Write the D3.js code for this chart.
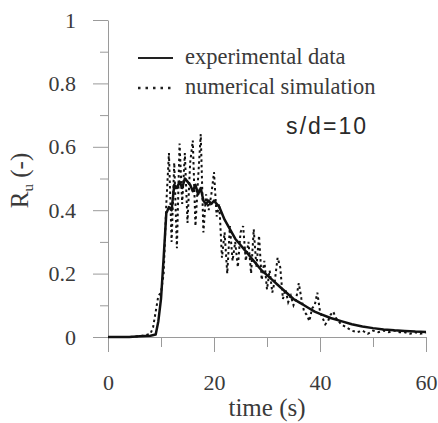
<!DOCTYPE html>
<html>
<head>
<meta charset="utf-8">
<script src="https://cdn.jsdelivr.net/npm/d3@7"></script>
<style>
  body { margin: 0; background: #fff; }
  svg { display: block; }
</style>
</head>
<body>
<div id="chart"></div>
<script>
// experimental data (solid)
const expTime = [0, 2, 4, 6, 8, 9, 9.5, 10, 10.5, 11, 11.5, 12, 12.5, 13, 13.5, 14, 14.5, 15, 15.5, 16, 16.5, 17, 17.5, 18, 18.5, 19, 19.5, 20, 20.5, 21,
    22, 23, 24, 25, 26, 27, 28, 29, 30, 31, 32, 33, 34, 35, 36, 37, 38, 39, 40, 42, 44, 46, 48, 50, 52, 54, 56, 58, 60]
const expRu = [0, 0, 0, 0.002, 0.004, 0.008, 0.05, 0.12, 0.25, 0.39, 0.41, 0.40, 0.48, 0.47, 0.49, 0.47, 0.50, 0.49, 0.48, 0.46, 0.48, 0.45, 0.47, 0.43, 0.42, 0.43, 0.42, 0.43, 0.42, 0.41,
    0.37, 0.34, 0.31, 0.29, 0.27, 0.25, 0.23, 0.21, 0.195, 0.18, 0.165, 0.15, 0.135, 0.12, 0.11, 0.10, 0.09, 0.08, 0.073, 0.06, 0.05, 0.04, 0.033, 0.028, 0.024, 0.021, 0.019, 0.017, 0.016]

// numerical simulation (dotted)
const simTime = [0, 2, 4, 6, 7, 8, 8.5, 9, 9.5, 10, 10.5, 11, 11.5, 12, 12.5, 13, 13.5, 14, 14.5, 15, 15.5, 16, 16.5, 17, 17.5, 18, 18.5, 19, 19.5, 20, 20.5, 21, 21.5, 22, 22.5,
    23, 23.5, 24, 24.5, 25, 25.5, 26, 26.5, 27, 27.5, 28, 28.5, 29, 29.5, 30, 30.5, 31, 31.5, 32, 32.5, 33, 33.5, 34, 34.5, 35, 35.5, 36, 36.5, 37, 37.5, 38, 38.5, 39, 39.5,
    40, 40.5, 41, 41.5, 42, 42.5, 43, 44, 45, 46, 47, 48, 49, 50, 51, 52, 53, 54, 55, 56, 57, 58, 59, 60]
const simRu = [0, 0, 0, 0.003, 0.005, 0.01, 0.03, 0.08, 0.13, 0.14, 0.20, 0.42, 0.58, 0.30, 0.55, 0.28, 0.61, 0.42, 0.58, 0.36, 0.55, 0.62, 0.35, 0.50, 0.64, 0.33, 0.45, 0.40, 0.45, 0.52, 0.38, 0.42, 0.25, 0.33, 0.20,
    0.35, 0.24, 0.30, 0.22, 0.33, 0.35, 0.24, 0.30, 0.20, 0.34, 0.22, 0.32, 0.18, 0.24, 0.15, 0.21, 0.14, 0.18, 0.25, 0.22, 0.12, 0.15, 0.11, 0.13, 0.10, 0.12, 0.17, 0.12, 0.08, 0.07, 0.05, 0.09, 0.10, 0.14,
    0.08, 0.06, 0.04, 0.05, 0.07, 0.08, 0.06, 0.04, 0.03, 0.02, 0.015, 0.02, 0.01, 0.02, 0.015, 0.02, 0.015, 0.02, 0.015, 0.015, 0.01, 0.015, 0.01, 0.015]

const xMajor = [0, 20, 40, 60]
const xMinor = [10, 30, 50]
const yMajor = [0, 0.2, 0.4, 0.6, 0.8, 1]
const yMinor = [0.1, 0.3, 0.5, 0.7, 0.9]
const yTickLabels = ["0", "0.2", "0.4", "0.6", "0.8", "1"]
const legendLabels = ["experimental data", "numerical simulation"]

const W = 438, H = 423
const margin = { top: 20, right: 12, bottom: 86, left: 108 },
    width = W - margin.left - margin.right,
    height = H - margin.top - margin.bottom

const serifFont = "'Liberation Serif'"
const axisGrey = "#9a9a9a"
const textCol = "#3a3a3a"

const root = d3.select("#chart").append("svg")
    .attr("width", W).attr("height", H)
const svg = root.append("g")
    .attr("transform", "translate(" + margin.left + "," + margin.top + ")")

const x = d3.scaleLinear().domain([0, 60]).range([0, width])
const y = d3.scaleLinear().domain([0, 1]).range([height, 0])

// y axis
svg.append("g")
    .call(d3.axisLeft(y).tickValues(yMajor).tickSize(15).tickSizeOuter(0).tickPadding(17)
        .tickFormat((d, i) => yTickLabels[i]))
svg.append("g")
    .call(d3.axisLeft(y).tickValues(yMinor).tickSize(8).tickSizeOuter(0).tickFormat(""))
    .select(".domain").remove()

// x axis
svg.append("g")
    .attr("transform", "translate(0," + height + ")")
    .call(d3.axisBottom(x).tickValues(xMajor).tickSize(15).tickSizeOuter(0).tickPadding(22))
svg.append("g")
    .attr("transform", "translate(0," + height + ")")
    .call(d3.axisBottom(x).tickValues(xMinor).tickSize(10).tickSizeOuter(0).tickFormat(""))
    .select(".domain").remove()

svg.selectAll(".domain, .tick line").attr("stroke", axisGrey).attr("stroke-width", 1)
svg.selectAll(".tick text")
    .attr("fill", textCol)
    .style("font-family", serifFont)
    .style("font-size", "22px")

// lines
const simData = simTime.map((t, i) => ({ t: t, v: simRu[i] }))
const expData = expTime.map((t, i) => ({ t: t, v: expRu[i] }))
const line = d3.line().x(d => x(d.t)).y(d => y(d.v))

svg.append("path")
    .datum(simData)
    .attr("fill", "none")
    .attr("stroke", "#111")
    .attr("stroke-width", 2)
    .attr("stroke-dasharray", "2.5,3")
    .attr("d", line)

svg.append("path")
    .datum(expData)
    .attr("fill", "none")
    .attr("stroke", "#111")
    .attr("stroke-width", 2.5)
    .attr("stroke-linejoin", "round")
    .attr("d", line)

// legend
const leg = svg.append("g").attr("transform", "translate(30,38)")
legendLabels.forEach((lab, i) => {
    const g = leg.append("g").attr("transform", "translate(0," + (i * 30) + ")")
    g.append("line")
        .attr("x1", 0).attr("x2", 35).attr("y1", 0).attr("y2", 0)
        .attr("stroke", "#222")
        .attr("stroke-width", i === 0 ? 2 : 2.5)
        .attr("stroke-dasharray", i === 0 ? null : "2.5,5")
    g.append("text")
        .attr("x", 47).attr("y", 6)
        .attr("fill", textCol)
        .style("font-family", serifFont)
        .style("font-size", "22.5px")
        .text(lab)
})

// annotation
svg.append("text")
    .attr("x", x(33.6)).attr("y", y(0.64))
    .attr("fill", "#2a2a2a")
    .style("font-family", "'Liberation Sans'")
    .style("font-size", "23px")
    .attr("textLength", 80)
    .text("s/d=10")

// axis titles
svg.append("text")
    .attr("x", width / 2).attr("y", height + 79)
    .attr("text-anchor", "middle")
    .attr("fill", textCol)
    .style("font-family", serifFont)
    .style("font-size", "25px")
    .text("time (s)")

const yl = svg.append("text")
    .attr("transform", "translate(" + (-80) + "," + (y(0.5) + 2) + ") rotate(-90)")
    .attr("text-anchor", "middle")
    .attr("fill", textCol)
    .style("font-family", serifFont)
    .style("font-size", "25px")
yl.append("tspan").text("R")
yl.append("tspan").attr("dy", 5).style("font-size", "15px").text("u")
yl.append("tspan").attr("dy", -5).text(" (-)")
</script>
</body>
</html>
